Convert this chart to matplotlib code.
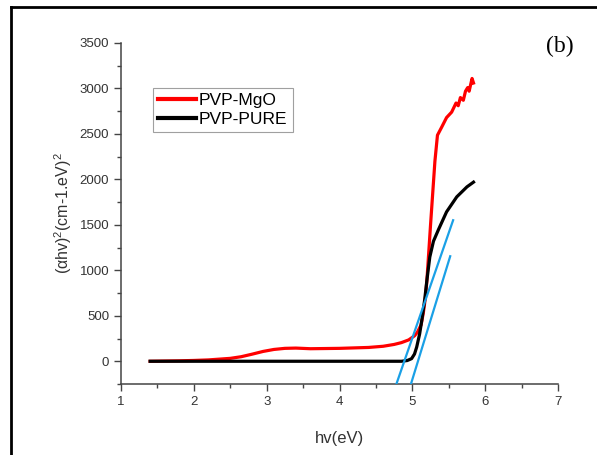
import matplotlib
matplotlib.use("Agg")
import matplotlib.pyplot as plt
from matplotlib.lines import Line2D
from matplotlib.ticker import MultipleLocator

plt.rcParams["font.family"] = ["Liberation Sans", "DejaVu Sans"]

# PVP-MgO (red)
mgo_x = [1.4, 1.8, 2.0, 2.2, 2.5, 2.65, 2.8, 2.95, 3.1, 3.25, 3.4, 3.6, 4.0,
         4.4, 4.6, 4.75, 4.85, 4.95, 5.03, 5.07, 5.12, 5.15, 5.18, 5.2, 5.23,
         5.25, 5.28, 5.31, 5.345, 5.40, 5.47, 5.54, 5.57, 5.60, 5.63, 5.66,
         5.70, 5.73, 5.76, 5.78, 5.82, 5.84]
mgo_y = [0, 5, 9, 15, 32, 50, 78, 108, 130, 142, 145, 138, 142,
         152, 165, 185, 205, 235, 280, 320, 400, 528, 700, 891, 1254,
         1500, 1850, 2200, 2486, 2570, 2680, 2740, 2790, 2840, 2810, 2900,
         2870, 2970, 3010, 2970, 3110, 3060]

# PVP-PURE (black)
pure_x = [1.4, 2.0, 3.0, 4.0, 4.5, 4.85, 4.93, 4.99, 5.03, 5.06, 5.1, 5.13,
          5.17, 5.2, 5.24, 5.29, 5.36, 5.47, 5.61, 5.75, 5.84]
pure_y = [0, 0, 0, 0, 0, 0, 8, 29, 80, 157, 300, 451,
          680, 891, 1147, 1320, 1450, 1643, 1808, 1918, 1970]

# tangent lines (blue)
fit1_x = [4.78, 5.56]
fit1_y = [-253, 1551]
fit2_x = [4.98, 5.52]
fit2_y = [-253, 1155]

fig = plt.figure(figsize=(5.97, 4.55), dpi=100)
ax = fig.add_axes([121 / 597, 1 - 384 / 455, (558 - 121) / 597, (384 - 43) / 455])

ax.plot(mgo_x, mgo_y, color="#ff0000", lw=2.3, label="PVP-MgO", zorder=3,
        solid_joinstyle="round")
ax.plot(pure_x, pure_y, color="black", lw=2.3, label="PVP-PURE", zorder=3,
        solid_joinstyle="round")
ax.plot(fit1_x, fit1_y, color="#1aa0e6", lw=1.6, zorder=4)
ax.plot(fit2_x, fit2_y, color="#1aa0e6", lw=1.6, zorder=4)

ax.set_xlim(1, 7)
ax.set_ylim(-250, 3500)
ax.xaxis.set_major_locator(MultipleLocator(1))
ax.xaxis.set_minor_locator(MultipleLocator(0.5))
ax.yaxis.set_major_locator(MultipleLocator(500))
ax.yaxis.set_minor_locator(MultipleLocator(250))
ax.set_yticks([0, 500, 1000, 1500, 2000, 2500, 3000, 3500])

for s in ["top", "right"]:
    ax.spines[s].set_visible(False)
for s in ["left", "bottom"]:
    ax.spines[s].set_color("#444444")
    ax.spines[s].set_linewidth(1.1)

ax.tick_params(which="major", direction="out", length=5, width=1.0,
               color="#444444", labelsize=9.5, labelcolor="#333333")
ax.tick_params(which="minor", direction="out", length=3, width=1.0, color="#444444")

ax.set_xlabel("hv(eV)", fontsize=12, color="#333333", labelpad=17)
ax.set_ylabel(r"($\mathregular{\alpha}$hv)$\mathregular{^2}$(cm-1.eV)$\mathregular{^2}$",
              fontsize=11.5, color="#333333", labelpad=4)

leg = ax.legend(loc="upper left", bbox_to_anchor=(153 / 597, 1 - 88 / 455),
                bbox_transform=fig.transFigure, fontsize=12.5, frameon=True,
                fancybox=False, handlelength=2.2, handletextpad=0.15,
                borderpad=0.3, labelspacing=0.2, borderaxespad=0)
leg.get_frame().set_edgecolor("#888888")
leg.get_frame().set_linewidth(0.8)
for h in leg.get_lines():
    h.set_linewidth(3)

fig.text(560 / 597, 1 - 46 / 455, "(b)", fontsize=17, family="Liberation Serif",
         ha="center", va="center")

# outer frame
fig.add_artist(Line2D([11 / 597, 11 / 597], [0, 1 - 7 / 455], color="black",
                      lw=2, transform=fig.transFigure))
fig.add_artist(Line2D([11 / 597, 1], [1 - 7 / 455, 1 - 7 / 455], color="black",
                      lw=2, transform=fig.transFigure))

fig.savefig("out.png", dpi=100)
